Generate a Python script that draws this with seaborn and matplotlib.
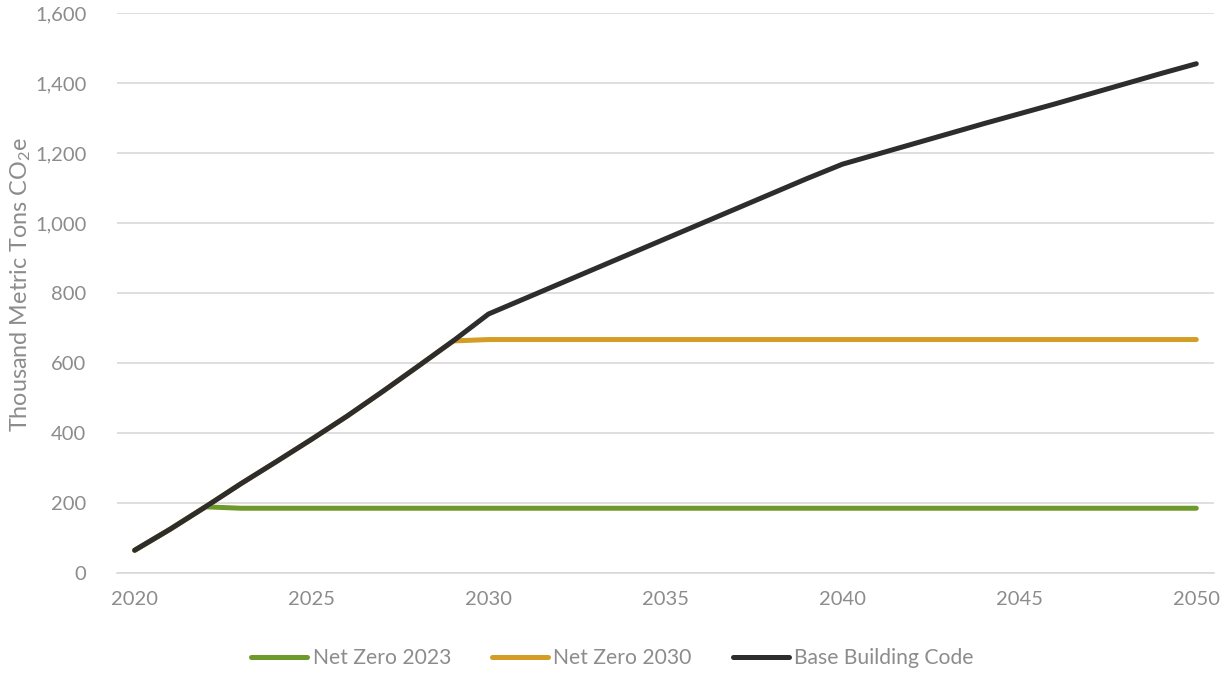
import matplotlib
matplotlib.use("Agg")
import matplotlib.pyplot as plt
from matplotlib.ticker import FuncFormatter, FixedLocator
import pandas as pd
import seaborn as sns

years = list(range(2020, 2051))

base_building_code = [65, 125, 189, 255, 318, 382, 448, 518, 590, 663,
                      740, 783, 826, 869, 912, 955, 998, 1041, 1084, 1127,
                      1168, 1197, 1226, 1255, 1284, 1312, 1340, 1369, 1398, 1427, 1455]
net_zero_2023 = [65, 125, 189] + [185] * 28
net_zero_2030 = base_building_code[:10] + [667] * 21

series_names = ["Net Zero 2023", "Net Zero 2030", "Base Building Code"]
series_values = [net_zero_2023, net_zero_2030, base_building_code]
colors = ["#6E9A2C", "#D49D25", "#2D2D2D"]

year_labels = [2020, 2025, 2030, 2035, 2040, 2045, 2050]
y_ticks = [0, 200, 400, 600, 800, 1000, 1200, 1400, 1600]

df = pd.concat(
    [pd.DataFrame({"Year": years, "Value": vals, "Scenario": name})
     for name, vals in zip(series_names, series_values)],
    ignore_index=True,
)

sns.set_style("white")
plt.rcParams["font.family"] = ["Lato", "DejaVu Sans"]
plt.rcParams["mathtext.fontset"] = "custom"
plt.rcParams["mathtext.rm"] = "Lato"
plt.rcParams["mathtext.it"] = "Lato"

text_gray = "#8C8C8C"
grid_gray = "#D9D9D9"

fig = plt.figure(figsize=(12.25, 6.73), dpi=100)
ax = fig.add_axes([0.0955, 0.1486, 0.8955, 0.8321])

sns.lineplot(data=df, x="Year", y="Value", hue="Scenario", hue_order=series_names,
             palette=colors, linewidth=3.6, ax=ax, legend=False)
for line in ax.get_lines():
    line.set_solid_capstyle("round")
    line.set_solid_joinstyle("round")

ax.set_xlim(2019.5, 2050.5)
ax.set_ylim(0, 1600)

ax.set_xticks(year_labels)
ax.set_xticklabels([str(y) for y in year_labels])
ax.xaxis.set_minor_locator(FixedLocator([2019.5 + 5 * k for k in range(7)]))
ax.tick_params(axis="x", which="major", length=0, pad=13, labelsize=14.5, labelcolor=text_gray)
ax.tick_params(axis="x", which="minor", direction="in", length=8, width=1, color=grid_gray)

ax.set_yticks(y_ticks)
ax.yaxis.set_major_formatter(FuncFormatter(lambda v, p: f"{int(v):,}"))
ax.tick_params(axis="y", length=0, pad=22, labelsize=14.5, labelcolor=text_gray)

ax.grid(axis="y", color=grid_gray, linewidth=1.2)
ax.set_axisbelow(True)
for side in ["top", "right", "left"]:
    ax.spines[side].set_visible(False)
ax.spines["bottom"].set_color(grid_gray)
ax.spines["bottom"].set_linewidth(1.2)
ax.spines["bottom"].set_zorder(0.5)

ax.set_xlabel("")
ax.set_ylabel(r"Thousand Metric Tons CO$_\mathregular{2}$e", fontsize=16.8, color=text_gray)
ax.yaxis.set_label_coords(-0.077, 0.515)

handles = [plt.Line2D([], [], color=c, linewidth=3.6, solid_capstyle="round") for c in colors]
fig.legend(handles, series_names, loc="center", bbox_to_anchor=(0.5, 0.022),
           ncol=3, frameon=False, fontsize=15.2, labelcolor=text_gray,
           handlelength=2.65, handletextpad=0.25, columnspacing=1.95)

fig.savefig("out.png", dpi=100)
